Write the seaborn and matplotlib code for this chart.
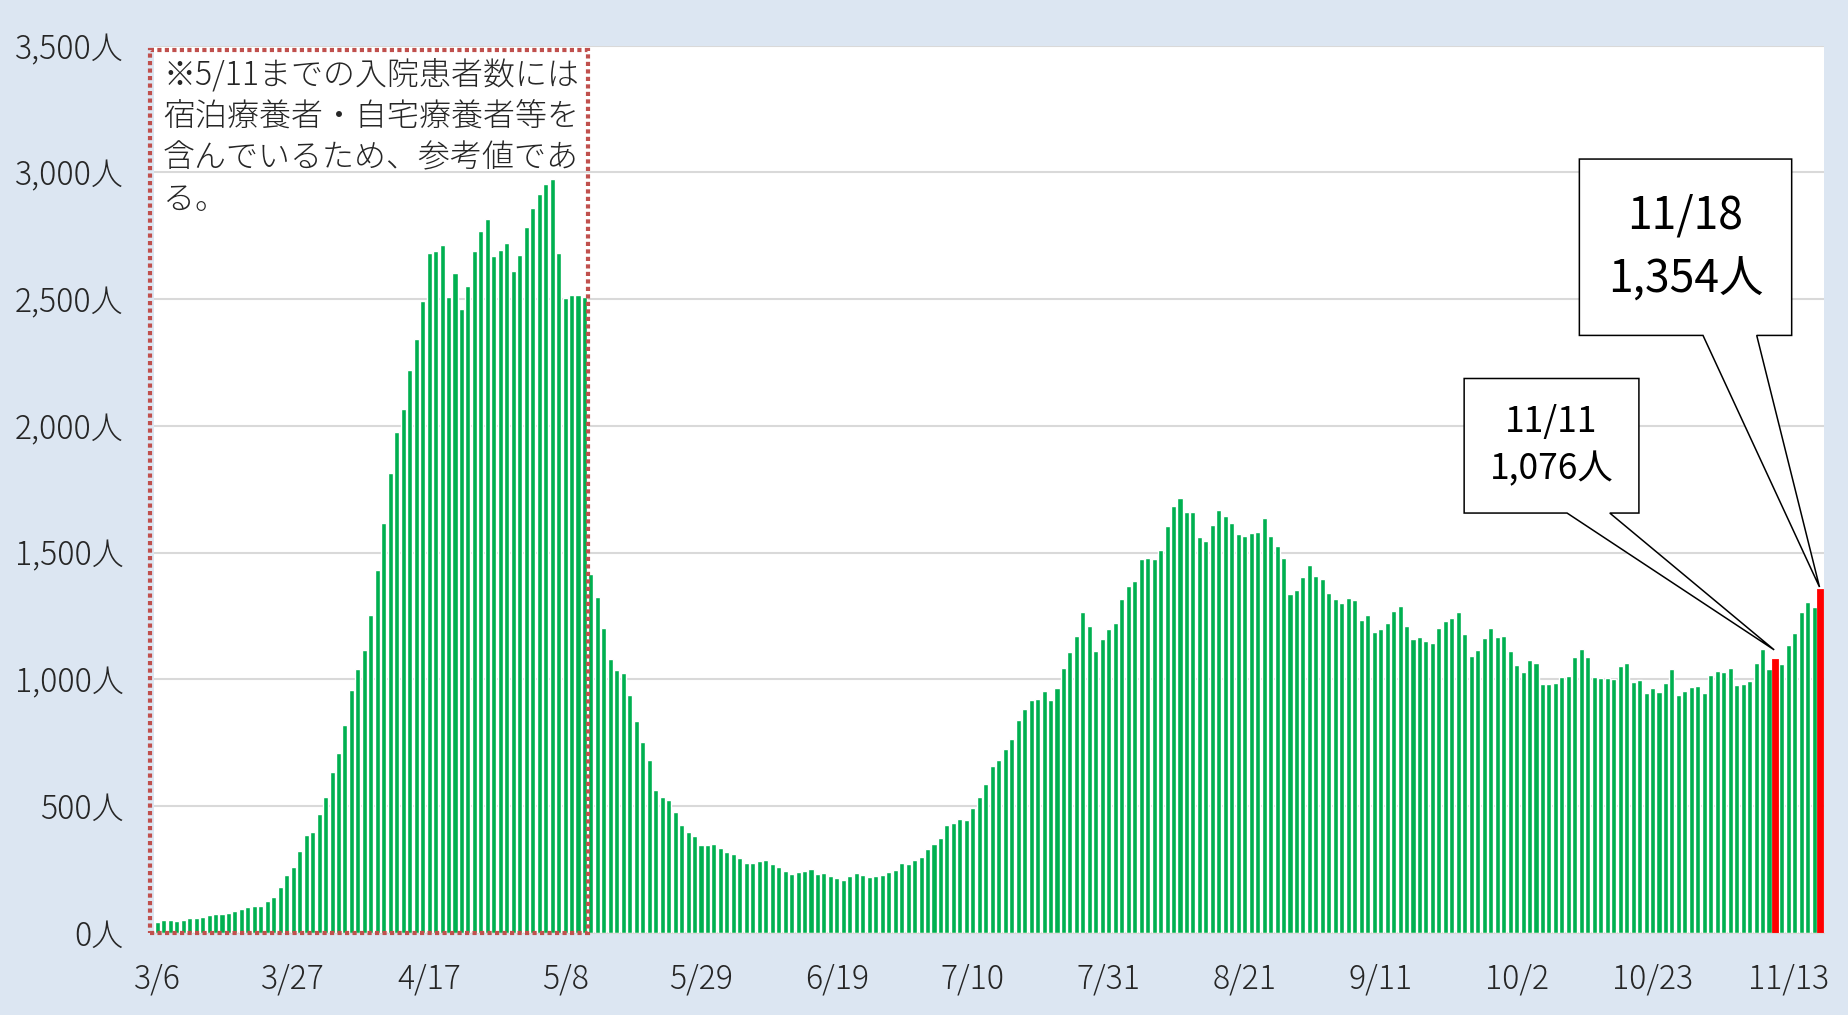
import pandas as pd
import matplotlib.pyplot as plt
import seaborn as sns
from matplotlib.patches import Rectangle, Polygon


# daily number of hospitalised patients, 2020/3/6 - 11/18

mar = [44, 52, 50, 46, 50, 58, 58, 60, 69, 73, 73, 77, 85, 93, 103, 107, 107,
       125, 139, 181, 228, 258, 321, 387, 399, 468]
apr = [536, 633, 708, 821, 956, 1040, 1117, 1254, 1432, 1615, 1813, 1976, 2065,
       2222, 2343, 2492, 2682, 2692, 2712, 2510, 2603, 2462, 2551, 2690, 2768,
       2817, 2670, 2694, 2720, 2611]
may = [2676, 2785, 2859, 2916, 2954, 2974, 2682, 2504, 2516, 2518, 2510, 1415,
       1323, 1202, 1081, 1038, 1026, 938, 835, 752, 681, 565, 534, 522, 478, 423,
       397, 383, 347, 345, 351]
jun = [333, 317, 310, 296, 276, 274, 282, 286, 270, 260, 242, 232, 238, 244, 250,
       232, 234, 224, 214, 208, 222, 236, 228, 220, 222, 226, 238, 246, 276, 270]
jul = [286, 300, 329, 351, 373, 423, 431, 448, 444, 492, 534, 585, 657, 682, 724,
       764, 841, 881, 919, 923, 952, 919, 966, 1044, 1109, 1169, 1264, 1212, 1111,
       1159, 1198]
aug = [1222, 1317, 1367, 1387, 1476, 1478, 1476, 1510, 1605, 1682, 1714, 1661,
       1659, 1563, 1544, 1607, 1667, 1643, 1617, 1573, 1567, 1577, 1581, 1635,
       1567, 1526, 1480, 1335, 1351, 1403, 1450]
sep = [1407, 1397, 1339, 1317, 1303, 1319, 1311, 1234, 1252, 1188, 1198, 1222,
       1268, 1290, 1210, 1157, 1167, 1153, 1143, 1204, 1230, 1240, 1264, 1177,
       1091, 1115, 1161, 1204, 1167, 1171]
oct_ = [1111, 1056, 1030, 1075, 1063, 982, 982, 986, 1010, 1012, 1089, 1121, 1089,
        1010, 1006, 1006, 1002, 1054, 1065, 990, 996, 946, 966, 950, 986, 1042,
        938, 954, 970, 974, 946]
nov = [1018, 1034, 1030, 1046, 976, 980, 992, 1065, 1119, 1042, 1076, 1059, 1135,
       1182, 1264, 1305, 1286, 1354]

highlight_days = ['11/11', '11/18']
y_ticks = [0, 500, 1000, 1500, 2000, 2500, 3000, 3500]

note = ('※5/11までの入院患者数には\n宿泊療養者・自宅療養者等を\n'
        '含んでいるため、参考値であ\nる。')


dates = pd.date_range('2020-03-06', '2020-11-18')
labels = [f'{d.month}/{d.day}' for d in dates]
values = mar + apr + may + jun + jul + aug + sep + oct_ + nov

df = pd.DataFrame({'date': labels, 'patients': values})
df['kind'] = ['hl' if d in highlight_days else 'normal' for d in df['date']]


# plot

sns.set_style('white')
plt.rcParams['font.family'] = ['Noto Sans CJK JP', 'DejaVu Sans']
plt.rcParams['font.weight'] = 'light'

fig = plt.figure(figsize=(18.49, 10.15), dpi=100)
fig.patch.set_facecolor('#DCE6F2')
ax = fig.add_axes([0.0833, 0.0811, 0.9032, 0.8738])
ax.set_facecolor('white')

sns.barplot(data=df, x='date', y='patients', hue='kind',
            palette={'normal': '#00B050', 'hl': '#FF0000'},
            dodge=False, legend=False, width=0.78, saturation=1, ax=ax)

# highlighted bars are drawn a bit wider
for p in ax.patches:
    if p.get_facecolor()[1] < 0.1:
        p.set_edgecolor('#FF0000')
        p.set_linewidth(1.3)

ax.set_xlim(-0.5, len(df) - 0.5)
ax.set_ylim(0, 3500)
ax.set_yticks(y_ticks)
ax.set_yticklabels([f'{v:,}人' for v in y_ticks])
ax.set_xticks(range(0, len(df), 21))
ax.set_xticklabels(labels[::21])
ax.set_xlabel('')
ax.set_ylabel('')

ax.grid(axis='y', color='#D9D9D9', lw=1.5)
ax.set_axisbelow(True)
for s in ['top', 'left', 'right']:
    ax.spines[s].set_visible(False)
ax.spines['bottom'].set_color('#D9D9D9')

ax.tick_params(axis='both', length=0, labelsize=23, colors='#262626')
ax.tick_params(axis='y', pad=22)
ax.tick_params(axis='x', pad=21)


# dotted box for the reference-value period

last_ref = labels.index('5/11')
ax.add_patch(Rectangle((-1.13, 0), last_ref + 0.5 + 1.13, 3485, fill=False,
                       edgecolor='#C0504D', lw=3.0, linestyle=(0, (1, 0.8)),
                       clip_on=False, zorder=5))
ax.text(0.0054, 0.986, note, transform=ax.transAxes, ha='left', va='top',
        fontsize=23, linespacing=1.26, color='#262626', zorder=6)


# callouts

def callout(day, box, base, lift, size, spacing):
    i = labels.index(day)
    v = values[i]
    x0, x1, y_bot, y_top = box
    b0, b1 = base
    verts = [(x0, y_top), (x1, y_top), (x1, y_bot), (b1, y_bot),
             (i - 0.2, v + lift), (b0, y_bot), (x0, y_bot)]
    ax.add_patch(Polygon(verts, closed=True, facecolor='white',
                         edgecolor='black', lw=1.1, clip_on=False, zorder=7))
    ax.text((x0 + x1) / 2, (y_bot + y_top) / 2, f'{day}\n{v:,}人',
            ha='center', va='center', fontsize=size, linespacing=spacing,
            fontweight='normal', color='black', zorder=8)


callout('11/11', (201.9, 228.9, 1656, 2187), (217.8, 224.4), 40, 25.5, 1.4)
callout('11/18', (219.7, 252.5, 2357, 3053), (238.8, 247.1), 10, 32, 1.5)

fig.savefig('out.png', dpi=100, facecolor=fig.get_facecolor())
